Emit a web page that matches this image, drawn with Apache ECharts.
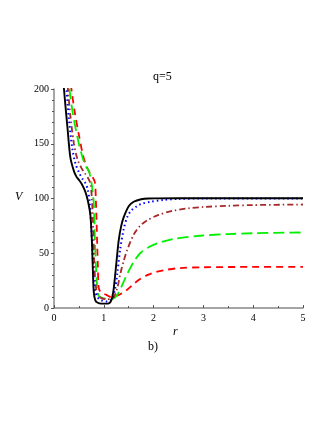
<!DOCTYPE html>
<html>
<head>
<meta charset="utf-8">
<script src="https://cdn.jsdelivr.net/npm/echarts@6/dist/echarts.min.js"></script>
<style>
  html, body { margin: 0; padding: 0; background: #fff; }
  #main { width: 327px; height: 423px; }
</style>
</head>
<body>
<div id="main"></div>
<script>
// potential V(r) for q=5, five curves
var blackSolid = [[0.18,215],[0.2,200],[0.27,165],[0.33,137],[0.4,125],[0.45,120],[0.5,117],[0.56,113],[0.63,106],[0.68,98],[0.73,85],[0.76,62],[0.78,35],[0.8,14],[0.83,7],[0.87,5],[0.95,4],[1.05,4],[1.1,4.2],[1.14,6],[1.17,10],[1.2,18],[1.25,40],[1.3,62],[1.35,75],[1.4,83],[1.5,93],[1.6,97],[1.75,99.3],[1.9,100],[2.5,100.3],[5,100.2]]
var blueDot = [[0.22,215],[0.25,200],[0.3,172],[0.37,145],[0.43,132],[0.5,124],[0.57,118],[0.63,114],[0.68,108],[0.72,95],[0.75,72],[0.78,45],[0.8,25],[0.83,15],[0.87,10],[0.95,7],[1.05,6],[1.12,6.5],[1.17,9],[1.22,16],[1.27,31],[1.33,54],[1.4,72],[1.47,83],[1.55,89],[1.65,92.5],[1.75,95],[1.93,97],[2.2,98.7],[2.5,99.6],[3,100],[5,100]]
var brownDashDot = [[0.25,215],[0.28,200],[0.33,175],[0.4,150],[0.47,136],[0.55,128],[0.62,123],[0.68,119],[0.73,114],[0.76,100],[0.79,70],[0.81,40],[0.84,20],[0.88,12],[0.95,9],[1.05,8],[1.15,8.5],[1.2,10],[1.27,18],[1.33,31],[1.4,43],[1.47,53],[1.6,67],[1.73,75],[1.87,80],[2.1,85],[2.4,89],[2.7,91],[3,92.3],[3.5,93.3],[4,94],[5,94.5]]
var greenLongDash = [[0.28,215],[0.31,200],[0.37,180],[0.43,165],[0.5,150],[0.57,138],[0.63,130],[0.7,125],[0.75,115],[0.78,105],[0.8,95],[0.82,65],[0.84,40],[0.87,18],[0.9,11],[0.97,9],[1.05,8.5],[1.12,8],[1.2,9],[1.27,12],[1.33,17],[1.4,24],[1.47,31],[1.6,42],[1.73,50],[1.9,55.5],[2.07,59],[2.4,63],[2.93,66],[3.5,67.5],[4,68.3],[5,69]]
var redDash = [[0.32,215],[0.35,200],[0.42,178],[0.5,158],[0.57,142],[0.63,132],[0.7,125],[0.77,120],[0.82,115],[0.84,100],[0.86,70],[0.88,40],[0.9,18],[0.95,14],[1.05,12],[1.15,10],[1.25,11],[1.33,12.5],[1.45,16],[1.6,22],[1.73,26.5],[1.87,30],[2.05,33],[2.27,35],[2.53,36.5],[3,37.2],[4,37.5],[5,37.5]]

var serif = '"Liberation Serif", "DejaVu Serif", serif'

function line (data, color, type, width) {
  return {
    type: 'line',
    data: data,
    showSymbol: false,
    smooth: 0.3,
    clip: true,
    lineStyle: { color: color, type: type, width: width }
  }
}

var chart = echarts.init(document.getElementById('main'))
chart.setOption({
  animation: false,
  title: {
    text: 'q=5', left: 148, top: 66,
    textStyle: { fontFamily: serif, fontSize: 12, fontWeight: 'normal', color: '#000' }
  },
  grid: { left: 54, right: 24, top: 89, bottom: 115 },
  xAxis: {
    type: 'value', min: 0, max: 5, interval: 1,
    axisLine: { onZero: true, lineStyle: { color: '#888', width: 1.5 } },
    axisTick: { inside: true, length: 3, lineStyle: { color: '#555' } },
    minorTick: { show: true, splitNumber: 2, length: 2, lineStyle: { color: '#555' } },
    splitLine: { show: false },
    axisLabel: { fontFamily: serif, fontSize: 10, color: '#000', margin: 5 }
  },
  yAxis: {
    type: 'value', min: 0, max: 200, interval: 50,
    axisLine: { show: true, lineStyle: { color: '#888', width: 1.5 } },
    axisTick: { show: true, length: 3, lineStyle: { color: '#555' } },
    minorTick: { show: true, splitNumber: 5, length: 2, lineStyle: { color: '#555' } },
    splitLine: { show: false },
    axisLabel: { fontFamily: serif, fontSize: 10, color: '#000', margin: 5 }
  },
  graphic: [
    { type: 'text', left: 15, top: 191, style: { text: 'V', font: 'italic 12px ' + serif, fill: '#000' } },
    { type: 'text', left: 173, top: 326, style: { text: 'r', font: 'italic 12px ' + serif, fill: '#000' } },
    { type: 'text', left: 148, top: 341, style: { text: 'b)', font: '12px ' + serif, fill: '#000' } }
  ],
  series: [
    line(redDash, '#ff0000', [7, 5], 1.8),
    line(greenLongDash, '#00f000', [11, 5], 1.8),
    line(brownDashDot, '#a52a2a', [6, 3, 1.5, 3], 1.8),
    line(blueDot, '#0000ff', [1.5, 3], 2),
    line(blackSolid, '#000000', 'solid', 1.9)
  ]
})
</script>
</body>
</html>
